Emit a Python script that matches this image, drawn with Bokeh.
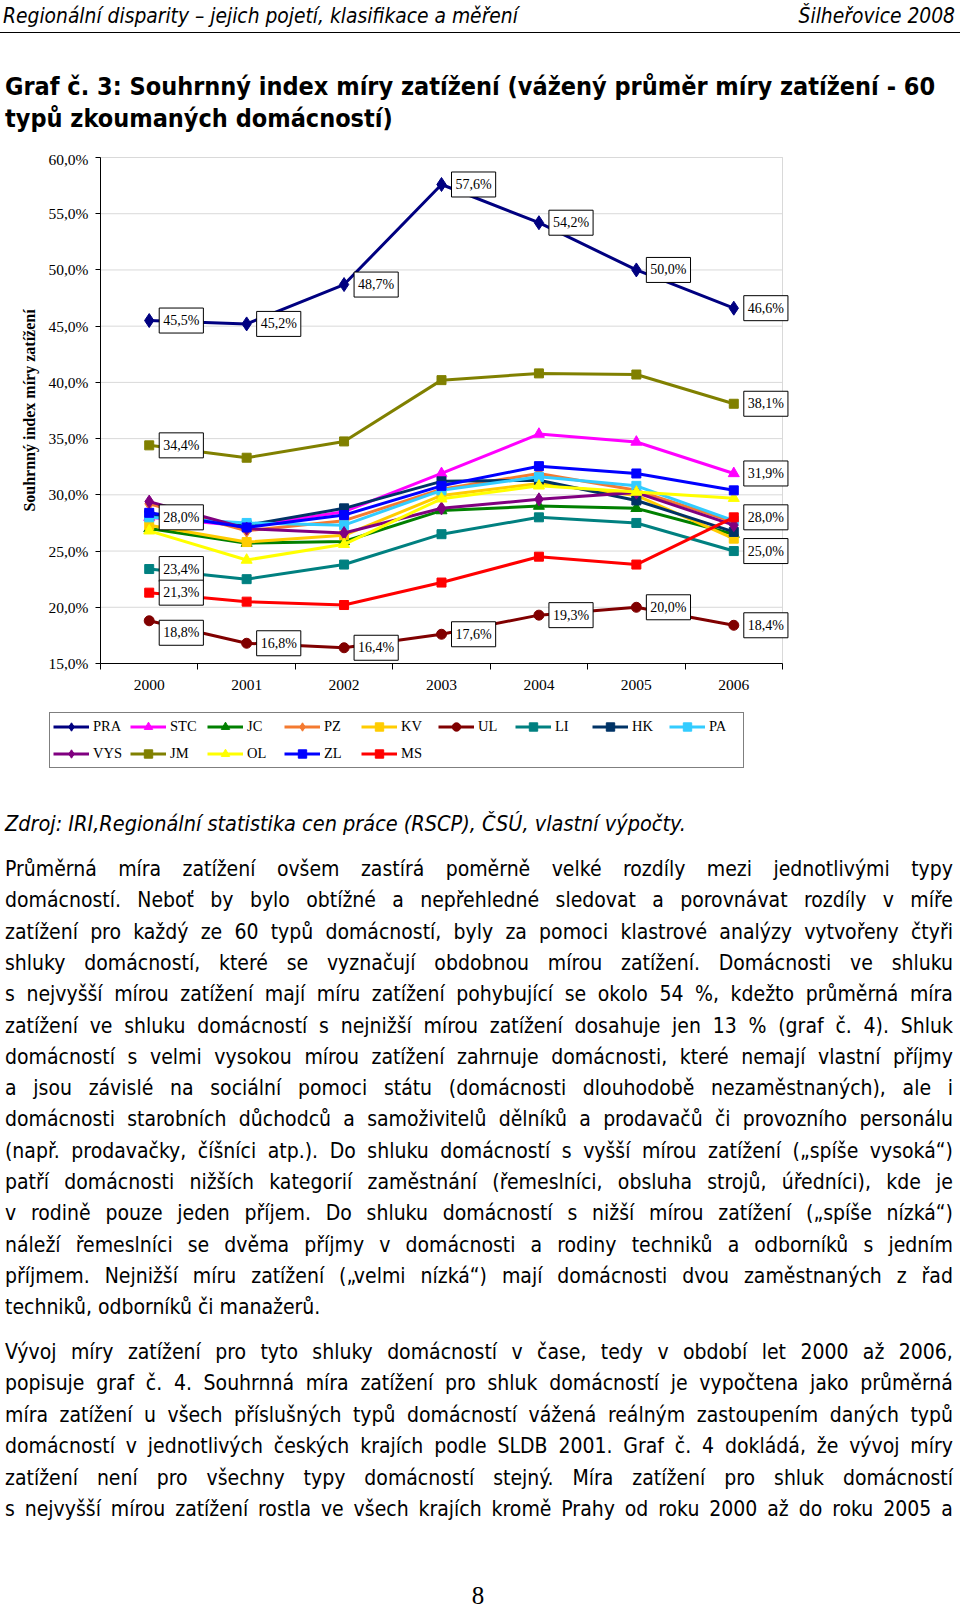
import html as _html
from bokeh.plotting import figure
from bokeh.models import (ColumnDataSource, FixedTicker, LinearAxis, Legend, LegendItem,
                          Div, Range1d, BoxAnnotation)
from bokeh.layouts import column
from bokeh.embed import file_html
from bokeh.resources import INLINE
from bokeh.core.properties import value

# ---------------- data ----------------
years = ["2000", "2001", "2002", "2003", "2004", "2005", "2006"]
series_names = ["PRA", "STC", "JC", "PZ", "KV", "UL", "LI", "HK", "PA",
                "VYS", "JM", "OL", "ZL", "MS"]
PRA = [45.5, 45.2, 48.7, 57.6, 54.2, 50.0, 46.6]
STC = [28.0, 27.2, 28.5, 31.9, 35.4, 34.7, 31.9]
JC = [27.0, 25.7, 25.85, 28.6, 29.0, 28.8, 26.5]
PZ = [29.2, 26.8, 27.7, 30.5, 31.9, 30.4, 27.6]
KV = [27.3, 25.8, 26.4, 29.95, 31.0, 29.95, 26.1]
UL = [18.8, 16.8, 16.4, 17.6, 19.3, 20.0, 18.4]
LI = [23.4, 22.5, 23.8, 26.5, 28.0, 27.5, 25.0]
HK = [28.2, 27.3, 28.8, 31.2, 31.3, 29.5, 26.7]
PA = [28.0, 27.5, 27.3, 30.4, 31.6, 30.8, 27.7]
VYS = [29.4, 27.0, 26.6, 28.8, 29.6, 30.2, 27.3]
JM = [34.4, 33.3, 34.75, 40.2, 40.8, 40.7, 38.1]
OL = [26.8, 24.2, 25.6, 29.65, 30.8, 30.25, 29.7]
ZL = [28.4, 27.1, 28.2, 30.8, 32.55, 31.9, 30.4]
MS = [21.3, 20.5, 20.2, 22.2, 24.5, 23.8, 28.0]
y_ticks = [15, 20, 25, 30, 35, 40, 45, 50, 55, 60]
y_axis_title = "Souhrnný index míry zatížení"

series_values = {"PRA": PRA, "STC": STC, "JC": JC, "PZ": PZ, "KV": KV, "UL": UL,
                 "LI": LI, "HK": HK, "PA": PA, "VYS": VYS, "JM": JM, "OL": OL,
                 "ZL": ZL, "MS": MS}

# ---------------- styles ----------------
series_style = {
    "PRA": ("#000080", "diamond", 14),
    "STC": ("#FF00FF", "triangle", 11),
    "JC": ("#008000", "triangle", 11),
    "PZ": ("#F47A30", "diamond", 13),
    "KV": ("#FFCC00", "square", 9),
    "UL": ("#800000", "circle", 10),
    "LI": ("#008080", "square", 9),
    "HK": ("#003366", "square", 9),
    "PA": ("#33CCFF", "square", 9),
    "VYS": ("#800080", "diamond", 13),
    "JM": ("#808000", "square", 9),
    "OL": ("#FFFF00", "triangle", 11),
    "ZL": ("#0000FF", "square", 9),
    "MS": ("#FF0000", "square", 9),
}
labelled_points = {"PRA": range(7), "UL": range(7), "JM": (0, 6), "STC": (0, 6),
                   "LI": (0, 6), "MS": (0, 6)}
label_shift = {("UL", 0): 12}

SERIF = "Liberation Serif"
PAGE_W = 960

# ---------------- chart geometry (pixels inside the figure) ----------------
FIG_H = 630
PLOT_L, PLOT_R, PLOT_T, PLOT_B = 100, 782, 7, 513
n_cat = len(years)
y_lo, y_hi = y_ticks[0], y_ticks[-1]
ux = (PLOT_R - PLOT_L) / n_cat
uy = (PLOT_B - PLOT_T) / (y_hi - y_lo)
x_range = Range1d(0 - PLOT_L / ux, n_cat + (PAGE_W - PLOT_R) / ux)
y_range = Range1d(y_lo - (FIG_H - PLOT_B) / uy, y_hi + PLOT_T / uy)

p = figure(width=PAGE_W, height=FIG_H, x_range=x_range, y_range=y_range,
           output_backend="svg", toolbar_location=None,
           x_axis_type=None, y_axis_type=None,
           min_border=0, min_border_left=0, min_border_right=0,
           min_border_top=0, min_border_bottom=0)
p.background_fill_color = "white"
p.border_fill_color = "white"
p.outline_line_color = None

xpos = [i + 0.5 for i in range(n_cat)]

# plot-area border (grey top/right like the original)
p.add_layout(BoxAnnotation(left=0, right=n_cat, bottom=y_lo, top=y_hi, fill_alpha=0,
                           line_color="#808080", line_width=1, level="underlay"))

# horizontal gridlines
grid_src = ColumnDataSource(dict(y=[t for t in y_ticks if y_lo < t < y_hi]))
p.segment(x0=0, x1=n_cat, y0="y", y1="y", source=grid_src, line_color="#D9D9D9", line_width=1)

yaxis = LinearAxis(ticker=FixedTicker(ticks=y_ticks), fixed_location=0, bounds=(y_lo, y_hi),
                   major_label_overrides={t: f"{t:.1f}".replace(".", ",") + "%" for t in y_ticks},
                   major_tick_out=5, major_tick_in=0, minor_tick_out=0, minor_tick_in=0,
                   major_label_standoff=7, axis_line_color="black",
                   major_tick_line_color="black",
                   major_label_text_font=SERIF, major_label_text_font_size="15.5px",
                   major_label_text_color="black",
                   axis_label=y_axis_title, axis_label_text_font=SERIF,
                   axis_label_text_font_style="bold", axis_label_text_font_size="16px",
                   axis_label_standoff=7, axis_label_text_color="black")
p.add_layout(yaxis, "left")

xaxis = LinearAxis(ticker=FixedTicker(ticks=xpos, minor_ticks=list(range(n_cat + 1))),
                   fixed_location=y_lo, bounds=(0, n_cat),
                   major_label_overrides={x: y for x, y in zip(xpos, years)},
                   major_tick_out=0, major_tick_in=0, minor_tick_out=6, minor_tick_in=0,
                   minor_tick_line_color="black", axis_line_color="black",
                   major_label_standoff=10,
                   major_label_text_font=SERIF, major_label_text_font_size="15.5px",
                   major_label_text_color="black")
p.add_layout(xaxis, "below")

items = []
for name in series_names:
    color, marker, size = series_style[name]
    src = ColumnDataSource(dict(x=xpos, y=series_values[name]))
    lr = p.line("x", "y", source=src, line_color=color, line_width=3)
    sr = p.scatter("x", "y", source=src, marker=marker, size=size,
                   fill_color=color, line_color=color)
    items.append(LegendItem(label=name, renderers=[lr, sr]))

lx, ly, lt, ldy = [], [], [], []
for name, idxs in labelled_points.items():
    vals = series_values[name]
    for i in idxs:
        lx.append(xpos[i])
        ly.append(vals[i])
        lt.append(f"{vals[i]:.1f}".replace(".", ",") + "%")
        ldy.append(label_shift.get((name, i), 0))
lsrc = ColumnDataSource(dict(x=lx, y=ly, text=lt, dy=ldy))
p.text(x="x", y="y", text="text", source=lsrc, x_offset=10, y_offset="dy",
       text_font=value(SERIF), text_font_size="14px", text_color="black",
       text_align="left", text_baseline="middle",
       background_fill_color="white", border_line_color="black", border_line_width=1,
       padding=(4, 5))

legend = Legend(items=items, location=(49, 12), orientation="horizontal", ncols=9,
                glyph_width=36, glyph_height=21, label_standoff=4, label_width=31,
                label_height=21, spacing=6, padding=3, margin=0,
                border_line_color="black", border_line_width=1.2,
                background_fill_color="white", background_fill_alpha=1,
                label_text_font=SERIF, label_text_font_size="14.5px",
                label_text_color="black")
p.add_layout(legend)

# ---------------- page text ----------------
SANS = "font-family:'DejaVu Sans Condensed','DejaVu Sans',sans-serif;font-stretch:condensed;color:#000;"


def esc(s):
    return _html.escape(s)


def line(text, cy, size, lh=22, style="", left=5, width=948, align="left"):
    top = cy - lh / 2
    return (f'<div style="position:absolute;left:{left}px;top:{top:.1f}px;width:{width}px;'
            f'height:{lh}px;line-height:{lh}px;white-space:nowrap;text-align:{align};'
            f'{SANS}font-size:{size}px;{style}">{esc(text)}</div>')


def jline(text, cy, size, lh=26, left=5, width=948):
    top = cy - lh / 2
    spans = "".join(f"<span>{esc(w)}</span>" for w in text.split())
    return (f'<div style="position:absolute;left:{left}px;top:{top:.1f}px;width:{width}px;height:{lh}px;'
            f'line-height:{lh}px;white-space:nowrap;display:flex;justify-content:space-between;'
            f'{SANS}font-size:{size}px;">{spans}</div>')


header_left = "Regionální disparity – jejich pojetí, klasifikace a měření"
header_right = "Šilheřovice 2008"
title_lines = ["Graf č. 3: Souhrnný index míry zatížení (vážený průměr míry zatížení  - 60",
               "typů zkoumaných domácností)"]
source_text = "Zdroj: IRI,Regionální statistika cen práce (RSCP), ČSÚ, vlastní výpočty."
para1 = [
    "Průměrná míra zatížení ovšem zastírá poměrně velké rozdíly mezi jednotlivými typy",
    "domácností. Neboť by bylo obtížné a nepřehledné sledovat a porovnávat rozdíly v míře",
    "zatížení pro každý ze 60 typů domácností, byly za pomoci klastrové analýzy vytvořeny čtyři",
    "shluky domácností, které se vyznačují obdobnou mírou zatížení. Domácnosti ve shluku",
    "s nejvyšší mírou zatížení mají míru zatížení pohybující se okolo 54 %, kdežto průměrná míra",
    "zatížení ve shluku domácností s nejnižší mírou zatížení dosahuje jen 13 % (graf č. 4). Shluk",
    "domácností  s velmi vysokou mírou zatížení zahrnuje domácnosti, které nemají vlastní příjmy",
    "a jsou závislé na sociální pomoci státu (domácnosti dlouhodobě nezaměstnaných), ale i",
    "domácnosti starobních důchodců a samoživitelů dělníků a prodavačů či provozního personálu",
    "(např. prodavačky, číšníci atp.). Do shluku domácností s vyšší mírou zatížení („spíše vysoká“)",
    "patří domácnosti nižších kategorií zaměstnání (řemeslníci, obsluha strojů, úředníci), kde je",
    "v rodině pouze jeden příjem. Do shluku domácností s nižší mírou zatížení („spíše nízká“)",
    "náleží řemeslníci se dvěma příjmy v domácnosti a rodiny techniků a odborníků s jedním",
    "příjmem. Nejnižší míru zatížení („velmi nízká“) mají domácnosti dvou zaměstnaných z řad",
    "techniků, odborníků či manažerů.",
]
para2 = [
    "Vývoj míry zatížení pro tyto shluky domácností v čase, tedy v období let 2000 až 2006,",
    "popisuje graf č. 4. Souhrnná míra zatížení pro shluk domácností je vypočtena jako průměrná",
    "míra zatížení u všech příslušných typů domácností vážená reálným zastoupením daných typů",
    "domácností v jednotlivých českých krajích podle SLDB 2001. Graf č. 4 dokládá, že vývoj míry",
    "zatížení není pro všechny typy domácností stejný. Míra zatížení pro shluk domácností",
    "s nejvyšší mírou zatížení rostla ve všech krajích kromě Prahy od roku 2000 až do roku 2005 a",
]
page_number = "8"

TOP_H = 150
top_parts = [
    line(header_left, 16, 20.8, lh=26, style="font-style:italic;", left=3),
    line(header_right, 16, 20.8, lh=26, style="font-style:italic;", left=0, width=955, align="right"),
    f'<div style="position:absolute;left:0;top:32px;width:{PAGE_W}px;height:1px;background:#000;"></div>',
    line(title_lines[0], 87, 25, lh=30, style="font-weight:bold;"),
    line(title_lines[1], 119, 25, lh=30, style="font-weight:bold;"),
]
top_div = Div(text=f'<div style="position:relative;width:{PAGE_W}px;height:{TOP_H}px;">' + "".join(top_parts) + "</div>",
              width=PAGE_W, height=TOP_H, margin=0)

BOT_H = 1607 - TOP_H - FIG_H
bottom_parts = [line(source_text, 43.5, 21.5, lh=26, style="font-style:italic;")]
for i, t in enumerate(para1):
    cy = 89 + 31.3 * i
    if i == len(para1) - 1:
        bottom_parts.append(line(t, cy, 21, lh=26))
    else:
        bottom_parts.append(jline(t, cy, 21))
for i, t in enumerate(para2):
    cy = 571.5 + 31.5 * i
    bottom_parts.append(jline(t, cy, 21))
bottom_parts.append(
    f'<div style="position:absolute;left:428px;top:805px;width:100px;height:22px;line-height:22px;'
    f'text-align:center;font-family:\'Liberation Serif\',serif;font-size:25px;color:#000;">{page_number}</div>')
bottom_div = Div(text=f'<div style="position:relative;width:{PAGE_W}px;height:{BOT_H}px;">' + "".join(bottom_parts) + "</div>",
                 width=PAGE_W, height=BOT_H, margin=0)

layout = column(top_div, p, bottom_div, spacing=0)
open("out.html", "w").write(file_html(layout, INLINE))
